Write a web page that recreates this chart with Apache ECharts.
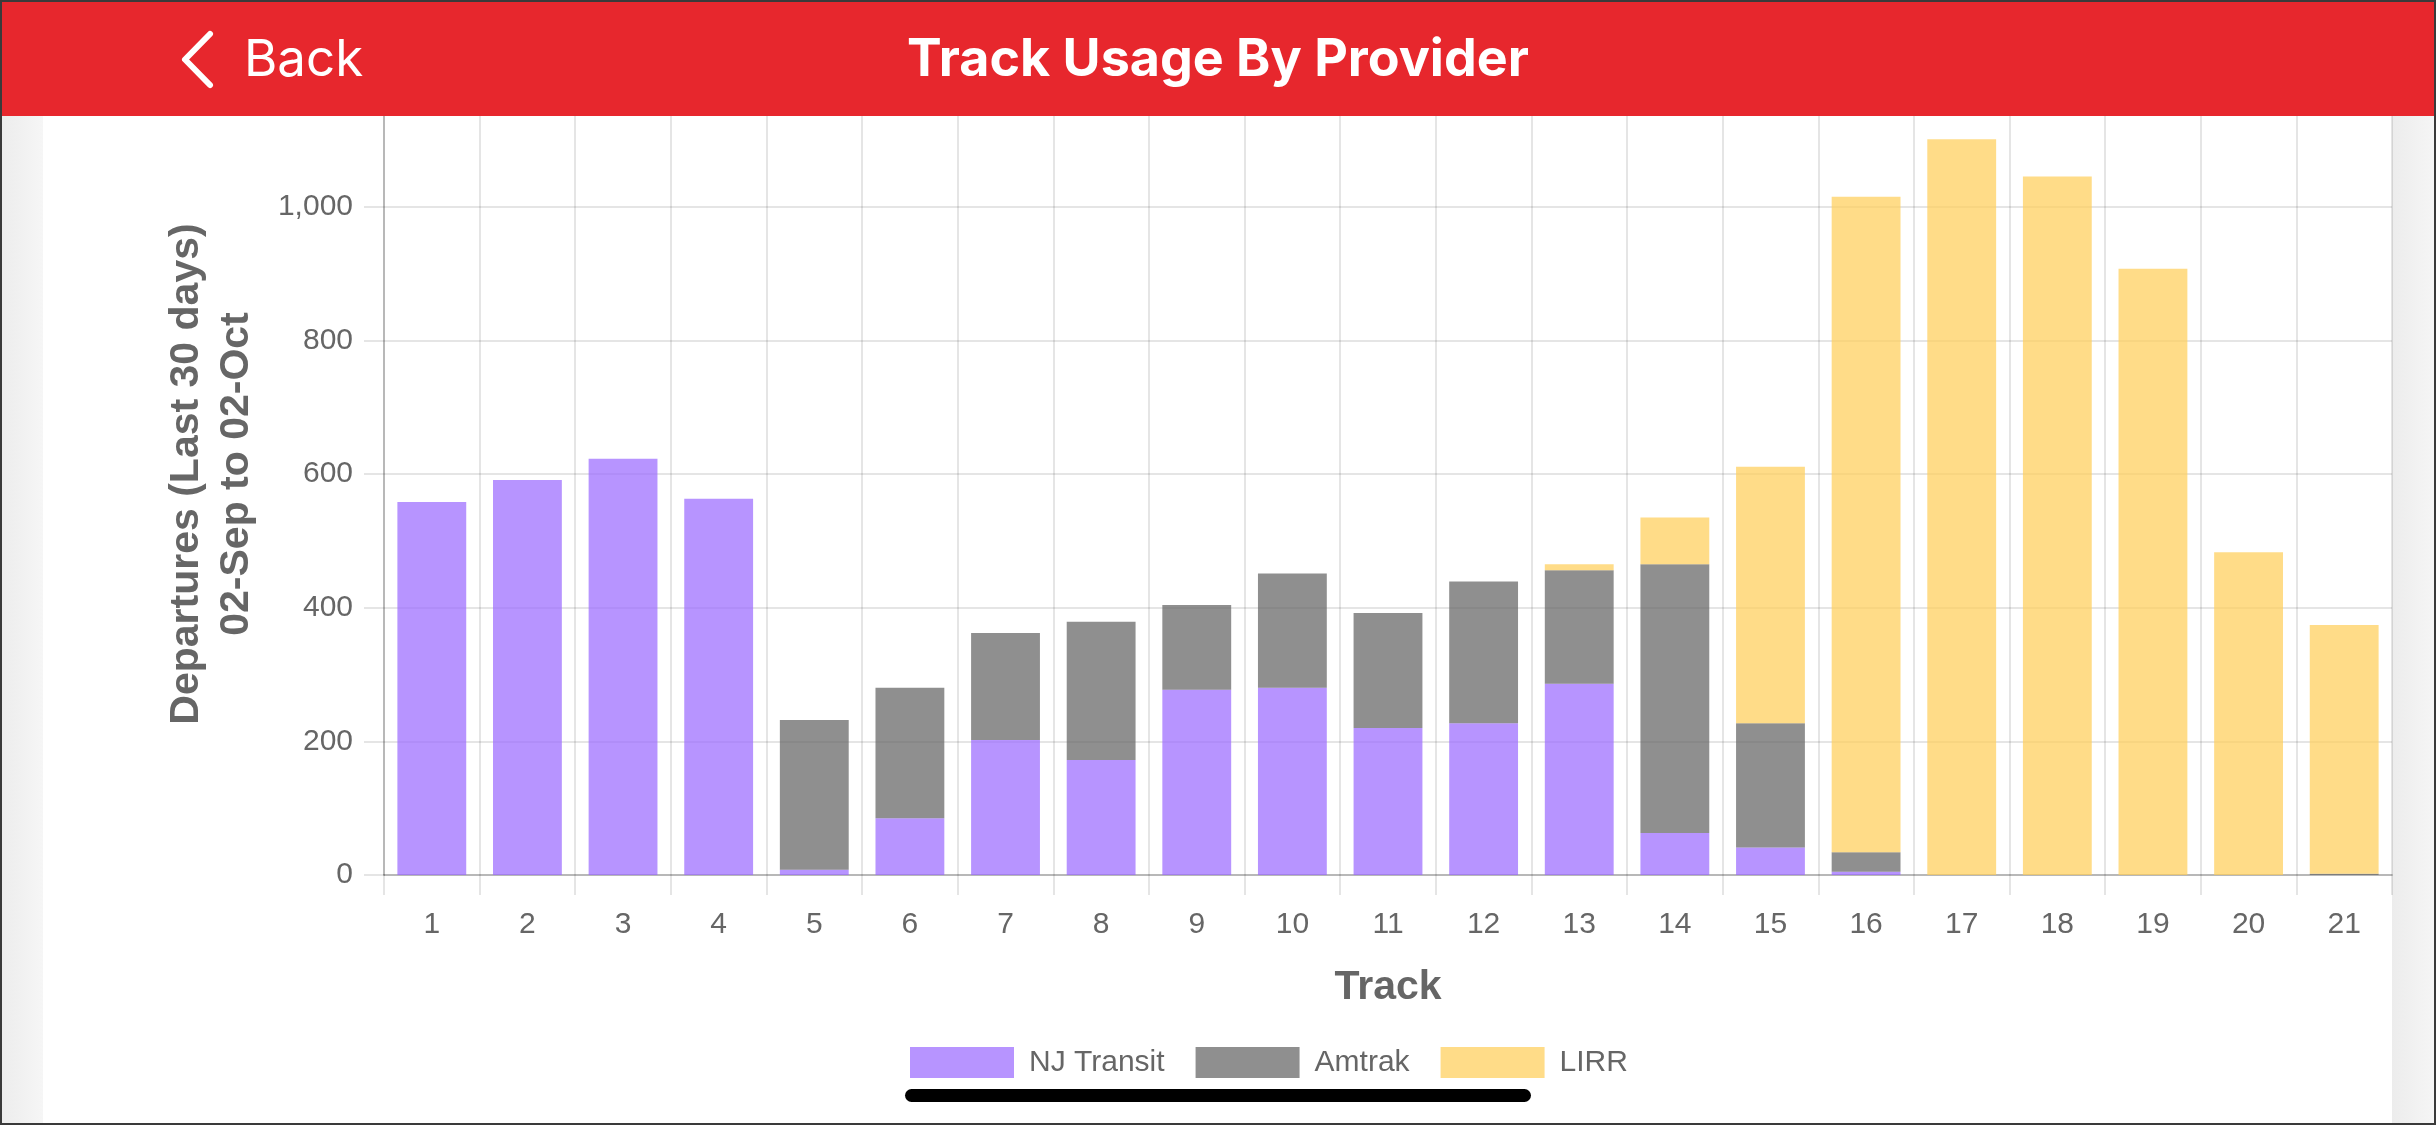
<!DOCTYPE html>
<html>
<head>
<meta charset="utf-8">
<title>Track Usage By Provider</title>
<script src="https://cdn.jsdelivr.net/npm/echarts@6/dist/echarts.min.js"></script>
<style>
    html, body {
        margin: 0;
        padding: 0;
        width: 2436px;
        height: 1125px;
        overflow: hidden;
        background: #ffffff;
    }
    .side {
        position: absolute;
        top: 0;
        height: 1125px;
        background: linear-gradient(to right, #ececec, #f6f6f6);
    }
    #chart {
        position: absolute;
        left: 0;
        top: 0;
        width: 2436px;
        height: 1125px;
    }
    #header {
        position: absolute;
        left: 0;
        top: 0;
        width: 2436px;
        height: 116px;
        background: #e7272d;
        z-index: 5;
        color: #ffffff;
        font-family: Inter, "Noto Sans", sans-serif;
    }
    #header .title {
        position: absolute;
        left: 0;
        width: 2436px;
        top: 0;
        line-height: 116px;
        text-align: center;
        font-size: 52px;
        font-weight: 700;
    }
    #header .back {
        position: absolute;
        left: 244px;
        top: 0;
        line-height: 116px;
        font-size: 51px;
        font-weight: 400;
    }
    #header svg {
        position: absolute;
        left: 176px;
        top: 28px;
    }
    #home-bar {
        position: absolute;
        left: 905px;
        top: 1089px;
        width: 626px;
        height: 13px;
        border-radius: 7px;
        background: #000000;
        z-index: 6;
    }
    #frame {
        position: absolute;
        left: 0;
        top: 0;
        width: 2432px;
        height: 1121px;
        border: 2px solid #3a3a3a;
        z-index: 10;
        pointer-events: none;
    }
</style>
</head>
<body>
<div class="side" style="left:0;width:43px;"></div>
<div class="side" style="left:2392px;width:44px;"></div>
<div id="chart"></div>
<div id="header">
    <svg width="44" height="64" viewBox="0 0 44 64">
        <polyline points="34,6 9,31.5 34,57" fill="none" stroke="#ffffff" stroke-width="6" stroke-linecap="round" stroke-linejoin="round"/>
    </svg>
    <div class="back">Back</div>
    <div class="title">Track Usage By Provider</div>
</div>
<div id="home-bar"></div>
<div id="frame"></div>

<script>
// Data
const tracks = ['1', '2', '3', '4', '5', '6', '7', '8', '9', '10', '11', '12', '13', '14', '15', '16', '17', '18', '19', '20', '21'];
const njTransit = [558, 591, 623, 563, 8, 85, 202, 172, 277, 280, 220, 227, 286, 63, 41, 5, 0, 0, 0, 0, 0];
const amtrak = [0, 0, 0, 0, 224, 195, 160, 207, 127, 171, 172, 212, 170, 402, 186, 29, 0, 0, 0, 0, 2];
const lirr = [0, 0, 0, 0, 0, 0, 0, 0, 0, 0, 0, 0, 9, 70, 384, 981, 1101, 1045, 907, 483, 372];

const providers = ['NJ Transit', 'Amtrak', 'LIRR'];
const providerColors = ['rgba(153, 102, 255, 0.7)', 'rgba(100, 100, 100, 0.72)', 'rgba(255, 205, 86, 0.7)'];

const FONT = '"Liberation Sans", Arial, Helvetica, sans-serif';
const GRID_COLOR = 'rgba(0, 0, 0, 0.1)';
const TEXT_COLOR = '#666666';

function stackSeries(name, values, color) {
    return {
        name: name,
        type: 'bar',
        stack: 'departures',
        barWidth: '72%',
        data: values,
        itemStyle: { color: color, borderWidth: 0 },
        emphasis: { disabled: true }
    };
}

const chart = echarts.init(document.getElementById('chart'), null, { renderer: 'canvas' });

chart.setOption({
    animation: false,
    backgroundColor: 'transparent',
    grid: {
        left: 384,
        right: 44,
        top: 73,
        bottom: 250,
        containLabel: false
    },
    legend: {
        data: providers,
        left: 910,
        top: 1047,
        padding: 0,
        icon: 'rect',
        itemWidth: 104,
        itemHeight: 31,
        itemGap: 31,
        textStyle: {
            fontFamily: FONT,
            fontSize: 30,
            color: TEXT_COLOR,
            padding: [0, 0, 0, 10]
        }
    },
    xAxis: {
        type: 'category',
        data: tracks,
        boundaryGap: true,
        name: 'Track',
        nameLocation: 'middle',
        nameGap: 92,
        nameTextStyle: {
            fontFamily: FONT,
            fontSize: 41,
            fontWeight: 'bold',
            color: TEXT_COLOR
        },
        axisLine: { show: true, lineStyle: { color: 'rgba(0, 0, 0, 0.2)', width: 2 } },
        axisTick: { show: true, length: 20, alignWithLabel: false, lineStyle: { color: GRID_COLOR, width: 2 } },
        splitLine: { show: true, lineStyle: { color: GRID_COLOR, width: 2 } },
        axisLabel: {
            fontFamily: FONT,
            fontSize: 30,
            color: TEXT_COLOR,
            margin: 35
        }
    },
    yAxis: {
        type: 'value',
        min: 0,
        max: 1200,
        interval: 200,
        name: 'Departures (Last 30 days)\n02-Sep to 02-Oct',
        nameLocation: 'middle',
        nameGap: 122,
        nameTextStyle: {
            fontFamily: FONT,
            fontSize: 41,
            fontWeight: 'bold',
            lineHeight: 50,
            color: TEXT_COLOR
        },
        axisLine: { show: true, lineStyle: { color: 'rgba(0, 0, 0, 0.2)', width: 2 } },
        axisTick: { show: true, length: 20, lineStyle: { color: GRID_COLOR, width: 2 } },
        splitLine: { show: true, lineStyle: { color: GRID_COLOR, width: 2 } },
        axisLabel: {
            fontFamily: FONT,
            fontSize: 30,
            color: TEXT_COLOR,
            margin: 31,
            formatter: v => v.toLocaleString('en-US')
        }
    },
    series: [
        stackSeries(providers[0], njTransit, providerColors[0]),
        stackSeries(providers[1], amtrak, providerColors[1]),
        stackSeries(providers[2], lirr, providerColors[2])
    ]
});
</script>
</body>
</html>
